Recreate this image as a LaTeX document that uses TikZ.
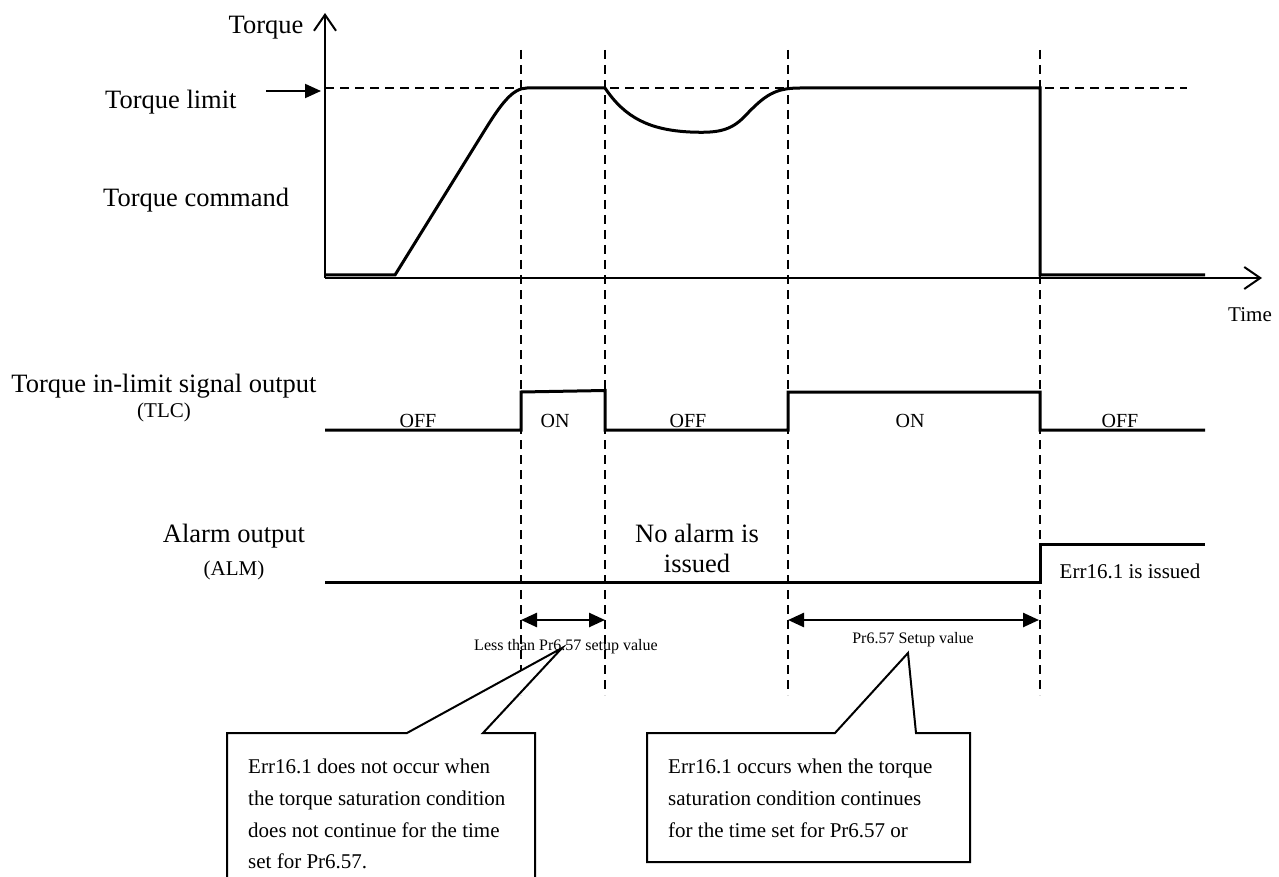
\documentclass[tikz,border=0pt]{standalone}
\usepackage{fontspec}
\setmainfont{Liberation Serif}
\usetikzlibrary{arrows.meta}
\begin{document}
\begin{tikzpicture}[x=1pt,y=-1pt,
  big/.style={font=\fontsize{26.5}{30}\selectfont, inner sep=0pt},
  mid/.style={font=\fontsize{21}{25}\selectfont, inner sep=0pt},
  sml/.style={font=\fontsize{20}{24}\selectfont, inner sep=0pt},
  tny/.style={font=\fontsize{16}{19}\selectfont, inner sep=0pt},
  axisline/.style={line width=2pt, -{Straight Barb[length=16pt,width=22pt,line width=2pt]}},
  sig/.style={line width=3pt, line join=miter},
  guide/.style={line width=2pt, dash pattern=on 9pt off 6pt},
  span/.style={line width=2.5pt, {Triangle[length=16pt,width=14pt]}-{Triangle[length=16pt,width=14pt]}},
  callout/.style={line width=2pt, fill=white, line join=miter},
]
\useasboundingbox (0,0) rectangle (1279,877);

% axes
\coordinate (O) at (325,278);
\coordinate (Ytop) at (325,13);
\coordinate (Xend) at (1262,278);
\draw[axisline] (O) -- (Ytop);
\draw[axisline] (O) -- (Xend);

% guides
\foreach \n/\x in {ga/521,gb/605,gc/788,gd/1040}{
  \coordinate (\n top) at (\x,50);
  \coordinate (\n bot) at (\x,695);
  \draw[guide] (\n top) -- (\n bot);
}
\coordinate (L0) at (325,88);
\coordinate (L1) at (1187,88);
\draw[guide] (L0) -- (L1);

% torque limit arrow
\coordinate (tlA) at (266,91);
\coordinate (tlB) at (321,91);
\draw[line width=2pt,-{Triangle[length=16pt,width=14pt]}] (tlA) -- (tlB);

% torque curve
\draw[sig] (325,275) -- (395,275) -- (483,133)
  .. controls (500,105.5) and (512,88) .. (527,88) -- (605,88)
  .. controls (625,118) and (650,130) .. (690,132)
  .. controls (715,133) and (730,132) .. (745,116)
  .. controls (765,95) and (775,88) .. (800,88)
  -- (1040,88) -- (1040,275) -- (1205,275);

% TLC signal
\draw[sig] (325,430) -- (521,430) -- (521,392) -- (605,390.5) -- (605,430)
  -- (788,430) -- (788,392) -- (1040,392) -- (1040,430) -- (1205,430);

% ALM signal
\draw[sig] (325,582) -- (1040,582) -- (1040,544) -- (1205,544);

% spans
\coordinate (s1a) at (521,620);
\coordinate (s1b) at (605,620);
\coordinate (s2a) at (788,620);
\coordinate (s2b) at (1039,620);
\draw[span] (s1a) -- (s1b);
\draw[span] (s2a) -- (s2b);

% callouts
\draw[callout] (227,882) -- (227,733) -- (407,733) -- (562,648) -- (483,733)
  -- (535,733) -- (535,882) -- cycle;
\draw[callout] (647,862) -- (647,733) -- (835,733) -- (908,653) -- (916,733)
  -- (970,733) -- (970,862) -- cycle;

% texts
\node[big, anchor=base] (torque) at (266,34) {Torque};
\node[big, anchor=base west] (tlim) at (105,109) {Torque limit};
\node[big, anchor=base west] (tcmd) at (103,207) {Torque command};
\node[mid, anchor=base] (time) at (1250,321) {Time};
\node[big, anchor=base] (tlc) at (164,392) {Torque in-limit signal output};
\node[mid, anchor=base] (tlcs) at (164,417) {(TLC)};
\node[big, anchor=base] (alm) at (234,542) {Alarm output};
\node[mid, anchor=base] (alms) at (234,575) {(ALM)};

\node[sml, anchor=base] (off1) at (418,427) {OFF};
\node[sml, anchor=base] (on1) at (555,427) {ON};
\node[sml, anchor=base] (off2) at (688,427) {OFF};
\node[sml, anchor=base] (on2) at (910,427) {ON};
\node[sml, anchor=base] (off3) at (1120,427) {OFF};

\node[big, anchor=base] (noal1) at (697,542) {No alarm is};
\node[big, anchor=base] (noal2) at (697,572) {issued};
\node[mid, anchor=base] (err) at (1130,578) {Err16.1 is issued};

\node[tny, anchor=base] (less) at (566,650) {Less than Pr6.57 setup value};
\node[tny, anchor=base] (setv) at (913,643) {Pr6.57 Setup value};

\node[mid, anchor=base west] (c1a) at (248,773) {Err16.1 does not occur when};
\node[mid, anchor=base west] (c1b) at (248,805) {the torque saturation condition};
\node[mid, anchor=base west] (c1c) at (248,837) {does not continue for the time};
\node[mid, anchor=base west] (c1d) at (248,868) {set for Pr6.57.};

\node[mid, anchor=base west] (c2a) at (668,773) {Err16.1 occurs when the torque};
\node[mid, anchor=base west] (c2b) at (668,805) {saturation condition continues};
\node[mid, anchor=base west] (c2c) at (668,837) {for the time set for Pr6.57 or};
\end{tikzpicture}
\end{document}
